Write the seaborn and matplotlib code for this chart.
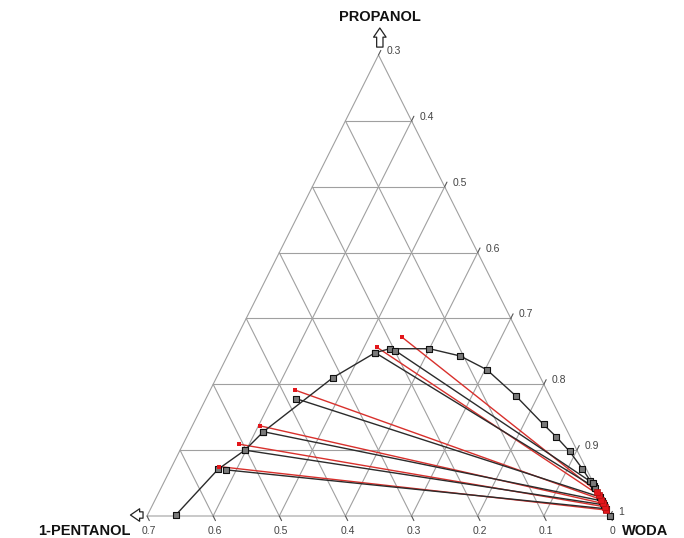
import matplotlib
matplotlib.use("Agg")
import numpy as np
import pandas as pd
import matplotlib.pyplot as plt
import seaborn as sns

# ---------------- data (mass fractions: 1-pentanol, propanol; water = rest) ----------------
# binodal curve (experimental)
bin_pe = [0.655, 0.557, 0.502, 0.460, 0.314, 0.231, 0.206, 0.146, 0.105, 0.075,
          0.051, 0.031, 0.021, 0.012, 0.006, 0.003, 0.001, 0.001, 0.0]
bin_pr = [0.002, 0.071, 0.100, 0.128, 0.210, 0.248, 0.254, 0.254, 0.243, 0.222,
          0.182, 0.139, 0.120, 0.098, 0.072, 0.053, 0.045, 0.020, 0.0]

# experimental tie lines (organic end / aqueous end)
exp_org_pe = [0.545, 0.502, 0.460, 0.385, 0.231, 0.199]
exp_org_pr = [0.070, 0.100, 0.128, 0.178, 0.248, 0.251]
exp_aq_pe = [0.001, 0.001, 0.001, 0.001, 0.001, 0.001]
exp_aq_pr = [0.011, 0.017, 0.023, 0.029, 0.043, 0.050]

# calculated tie lines (organic end / aqueous end)
calc_org_pe = [0.553, 0.506, 0.461, 0.380, 0.224, 0.179]
calc_org_pr = [0.075, 0.109, 0.137, 0.191, 0.256, 0.272]
calc_aq_pe = [0.001, 0.001, 0.001, 0.001, 0.001, 0.001]
calc_aq_pr = [0.009, 0.014, 0.019, 0.025, 0.032, 0.037]

# axis ticks
bottom_ticks = [0.7, 0.6, 0.5, 0.4, 0.3, 0.2, 0.1, 0.0]
bottom_labels = ["0.7", "0.6", "0.5", "0.4", "0.3", "0.2", "0.1", "0"]
right_ticks = [0.3, 0.4, 0.5, 0.6, 0.7, 0.8, 0.9, 1.0]
right_labels = ["0.3", "0.4", "0.5", "0.6", "0.7", "0.8", "0.9", "1"]
grid_levels = [0.1, 0.2, 0.3, 0.4, 0.5, 0.6]
SPAN = 0.7  # sub-triangle with water >= 0.3


def cart(pe, pr):
    pe = np.asarray(pe, float)
    pr = np.asarray(pr, float)
    return pe + pr / 2.0, pr


sns.set_theme(style="white")
plt.rcParams["font.family"] = ["Liberation Sans", "DejaVu Sans"]

fig = plt.figure(figsize=(6.84, 5.38), dpi=100)
ax = fig.add_axes([147 / 684, 22 / 538, 463 / 684, 461 / 538])
ax.set_xlim(SPAN, 0)
ax.set_ylim(0, SPAN)
ax.axis("off")

gcol = "#a0a0a0"
glw = 0.8
# outer triangle
tx, ty = cart([0, SPAN, 0, 0], [0, 0, SPAN, 0])
ax.plot(tx, ty, color=gcol, lw=glw, clip_on=False)
for g in grid_levels:
    # constant propanol
    x, y = cart([SPAN - g, 0], [g, g])
    ax.plot(x, y, color=gcol, lw=glw, clip_on=False)
    # constant pentanol
    x, y = cart([g, g], [0, SPAN - g])
    ax.plot(x, y, color=gcol, lw=glw, clip_on=False)
    # constant water (pe + pr = g)
    x, y = cart([g, 0], [0, g])
    ax.plot(x, y, color=gcol, lw=glw, clip_on=False)

# tick marks
tk = 0.007
for v in bottom_ticks:
    x, y = cart([v, v], [0, -tk])
    ax.plot(x, y, color="#555555", lw=0.8, clip_on=False)
for w in right_ticks:
    s = 1 - w
    x, y = cart([0, -tk], [s, s + tk])
    ax.plot(x, y, color="#555555", lw=0.8, clip_on=False)

# tick labels
for v, lab in zip(bottom_ticks, bottom_labels):
    x, y = cart(v, 0)
    ax.annotate(lab, xy=(x, y), xytext=(2, -15), textcoords="offset pixels",
                ha="center", va="center", fontsize=7.5, color="#444444",
                annotation_clip=False)
for w, lab in zip(right_ticks, right_labels):
    x, y = cart(0, 1 - w)
    ax.annotate(lab, xy=(x, y), xytext=(8, 4), textcoords="offset pixels",
                ha="left", va="center", fontsize=7.5, color="#444444",
                annotation_clip=False)

# corner titles
x, y = cart(0, SPAN)
ax.annotate("PROPANOL", xy=(x, y), xytext=(1, 38), textcoords="offset pixels",
            ha="center", va="center", fontsize=10.5, fontweight="bold",
            color="#111111", annotation_clip=False)
x, y = cart(SPAN, 0)
ax.annotate("1-PENTANOL", xy=(x, y), xytext=(-63, -15), textcoords="offset pixels",
            ha="center", va="center", fontsize=10.5, fontweight="bold",
            color="#111111", annotation_clip=False)
x, y = cart(0, 0)
ax.annotate("WODA", xy=(x, y), xytext=(35, -15), textcoords="offset pixels",
            ha="center", va="center", fontsize=10.5, fontweight="bold",
            color="#111111", annotation_clip=False)

# outline arrows
arrow_style = "simple,head_length=0.55,head_width=0.75,tail_width=0.38"
ax.annotate("", xy=(0.348, 0.741), xytext=(0.348, 0.712), annotation_clip=False,
            arrowprops=dict(arrowstyle=arrow_style, fc="white", ec="#222222",
                            lw=0.9, shrinkA=0, shrinkB=0))
ax.annotate("", xy=(0.725, 0.0015), xytext=(0.706, 0.0015), annotation_clip=False,
            arrowprops=dict(arrowstyle=arrow_style, fc="white", ec="#222222",
                            lw=0.9, shrinkA=0, shrinkB=0))

# tie lines as long table
rows = []
for i in range(len(calc_org_pe)):
    for pe, pr in ((calc_org_pe[i], calc_org_pr[i]), (calc_aq_pe[i], calc_aq_pr[i])):
        X, Y = cart(pe, pr)
        rows.append(dict(x=float(X), y=float(Y), line=f"c{i}", kind="calc"))
for i in range(len(exp_org_pe)):
    for pe, pr in ((exp_org_pe[i], exp_org_pr[i]), (exp_aq_pe[i], exp_aq_pr[i])):
        X, Y = cart(pe, pr)
        rows.append(dict(x=float(X), y=float(Y), line=f"e{i}", kind="exp"))
ties = pd.DataFrame(rows)

red = "#d8302c"
dark = "#2b2b2b"
sns.lineplot(data=ties[ties.kind == "calc"], x="x", y="y", units="line",
             estimator=None, sort=False, color=red, lw=1.0, ax=ax, legend=False)
sns.lineplot(data=ties[ties.kind == "exp"], x="x", y="y", units="line",
             estimator=None, sort=False, color=dark, lw=1.0, ax=ax, legend=False)

# binodal curve
bx, by = cart(bin_pe, bin_pr)
binodal = pd.DataFrame({"x": bx, "y": by})
sns.lineplot(data=binodal, x="x", y="y", sort=False, estimator=None,
             color=dark, lw=1.0, ax=ax, legend=False)
for ln in ax.lines:
    ln.set_clip_on(False)

# markers
sq = dict(marker="s", edgecolor="#111111", linewidth=0.8, color="#7a7a7a",
          ax=ax, legend=False, clip_on=False, zorder=4)
sns.scatterplot(data=binodal, x="x", y="y", s=20, **sq)
ex, ey = cart(exp_org_pe, exp_org_pr)
sns.scatterplot(x=ex, y=ey, s=20, **sq)
ax2x, ax2y = cart(exp_aq_pe, exp_aq_pr)
sns.scatterplot(x=ax2x, y=ax2y, s=20, **sq)

cx, cy = cart(calc_org_pe, calc_org_pr)
sns.scatterplot(x=cx, y=cy, s=10, marker="s", color="#e3161b", linewidth=0,
                ax=ax, legend=False, clip_on=False, zorder=5)
cax, cay = cart(calc_aq_pe, calc_aq_pr)
sns.scatterplot(x=cax, y=cay, s=20, marker="s", color="#e3161b", edgecolor="#b01010",
                linewidth=0.5, ax=ax, legend=False, clip_on=False, zorder=5)

ax.set_xlabel("")
ax.set_ylabel("")
fig.savefig("out.png", dpi=100)
